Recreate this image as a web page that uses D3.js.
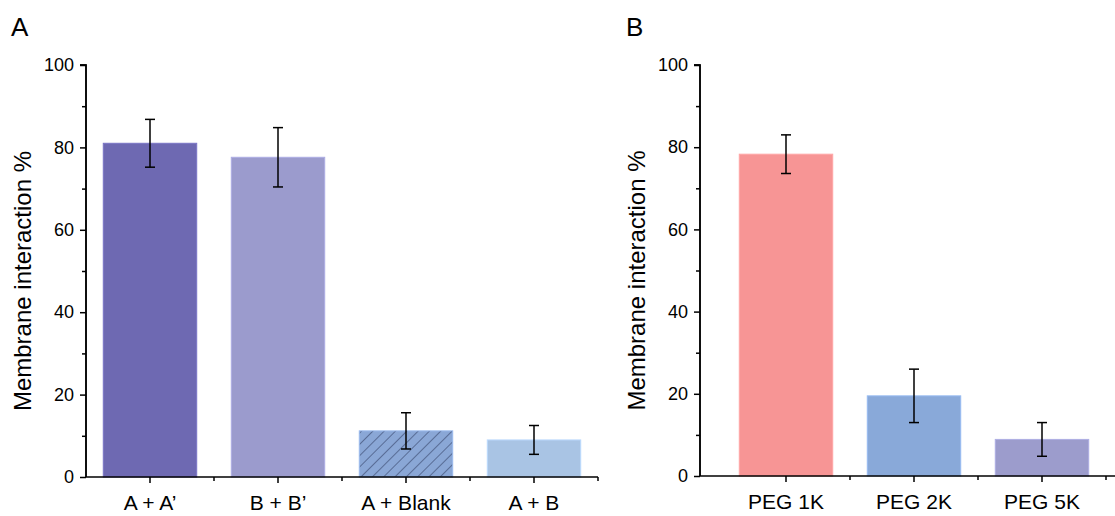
<!DOCTYPE html>
<html>
<head>
<meta charset="utf-8">
<script src="https://cdn.jsdelivr.net/npm/d3@7"></script>
<style>
  body { margin: 0; background: #fff; }
  svg { display: block; font-family: "Liberation Sans", Arial, sans-serif; }
</style>
</head>
<body>
<div id="chart"></div>
<script>
// panel A data
const catsA = ["A + A\u2019", "B + B\u2019", "A + Blank", "A + B"];
const valsA = [81.0, 77.6, 11.2, 9.0];
const errsA = [5.8, 7.2, 4.4, 3.5];
const colorsA = ["#6e69b2", "#9b9bcd", "#8aa7d6", "#a9c4e4"];
const hatchA = [false, false, true, false];

// panel B data
const catsB = ["PEG 1K", "PEG 2K", "PEG 5K"];
const valsB = [78.3, 19.5, 8.9];
const errsB = [4.7, 6.5, 4.1];
const colorsB = ["#f79595", "#89a9d9", "#9c9ccc"];

const yTicks = [0, 20, 40, 60, 80, 100];

const svg = d3.select("#chart").append("svg")
    .attr("width", 1115).attr("height", 516);

const defs = svg.append("defs");
const pat = defs.append("pattern")
    .attr("id", "hatch")
    .attr("patternUnits", "userSpaceOnUse")
    .attr("width", 8).attr("height", 8)
    .attr("patternTransform", "rotate(45)");
pat.append("rect").attr("width", 8).attr("height", 8).attr("fill", "#8aa7d6");
pat.append("line").attr("x1", 0).attr("y1", 0).attr("x2", 0).attr("y2", 8)
    .attr("stroke", "#2e3b5e").attr("stroke-width", 1.1);

// draw one panel
function panel(opts) {
    const { cats, vals, errs, colors, hatch, x0, x1, axisEnd, yTop, yBot, label } = opts;
    const ax = x0 - (opts.yOffset || 0);
    const g = svg.append("g");

    const x = d3.scaleBand().domain(cats).range([x0, x1]).paddingInner(0.27).paddingOuter(0.135);
    const xs = d3.scaleBand().domain(cats).range([x0, x1]).padding(0);
    const y = d3.scaleLinear().domain([0, 100]).range([yBot, yTop]);

    // bars
    g.selectAll("rect.bar").data(cats).join("rect")
        .attr("class", "bar")
        .attr("x", d => x(d))
        .attr("width", x.bandwidth())
        .attr("y", (d, i) => y(vals[i]))
        .attr("height", (d, i) => y(0) - y(vals[i]))
        .attr("fill", (d, i) => hatch && hatch[i] ? "url(#hatch)" : colors[i])
        .attr("stroke", (d, i) => d3.color(colors[i]).brighter(0.3))
        .attr("stroke-width", 1);

    // error bars
    const eg = g.selectAll("g.err").data(cats).join("g").attr("class", "err")
        .attr("stroke", "#000").attr("stroke-width", 1.5);
    eg.append("line")
        .attr("x1", d => x(d) + x.bandwidth() / 2).attr("x2", d => x(d) + x.bandwidth() / 2)
        .attr("y1", (d, i) => y(vals[i] + errs[i])).attr("y2", (d, i) => y(vals[i] - errs[i]));
    [1, -1].forEach(s => {
        eg.append("line")
            .attr("x1", d => x(d) + x.bandwidth() / 2 - 5).attr("x2", d => x(d) + x.bandwidth() / 2 + 5)
            .attr("y1", (d, i) => y(vals[i] + s * errs[i])).attr("y2", (d, i) => y(vals[i] + s * errs[i]));
    });

    // y axis
    const ya = g.append("g").attr("transform", `translate(${ax},0)`);
    ya.call(d3.axisLeft(y).tickValues(yTicks).tickSize(6).tickPadding(6));
    ya.append("g").call(d3.axisLeft(y).tickValues([10, 30, 50, 70, 90]).tickSize(4).tickFormat(""));
    ya.selectAll(".domain").attr("stroke-width", 1.5).attr("d", `M0,${yBot}V${yTop}H-6`);
    ya.selectAll(".tick line").attr("stroke-width", 1.5);
    ya.selectAll(".tick text").attr("font-size", 18).attr("fill", "#000")
        .attr("font-family", "Liberation Sans, Arial, sans-serif");

    // x axis
    const xa = g.append("g").attr("transform", `translate(0,${yBot})`);
    xa.append("line").attr("x1", ax).attr("x2", axisEnd)
        .attr("stroke", "#000").attr("stroke-width", 1.5);
    xa.selectAll("line.maj").data(cats).join("line").attr("class", "maj")
        .attr("x1", d => x(d) + x.bandwidth() / 2).attr("x2", d => x(d) + x.bandwidth() / 2)
        .attr("y1", 0).attr("y2", 6).attr("stroke", "#000").attr("stroke-width", 1.5);
    xa.selectAll("line.min").data(cats).join("line").attr("class", "min")
        .attr("x1", d => xs(d) + xs.bandwidth()).attr("x2", d => xs(d) + xs.bandwidth())
        .attr("y1", 0).attr("y2", 4).attr("stroke", "#000").attr("stroke-width", 1.5);
    xa.selectAll("text").data(cats).join("text")
        .attr("x", d => x(d) + x.bandwidth() / 2).attr("y", 33)
        .attr("text-anchor", "middle").attr("font-size", 21).text(d => d);

    // y title
    svg.append("text")
        .attr("transform", `translate(${ax - 55},${(yTop + yBot) / 2 + 10}) rotate(-90)`)
        .attr("text-anchor", "middle").attr("font-size", 24).text("Membrane interaction %");

    // panel label
    svg.append("text").attr("x", opts.labelX).attr("y", 36).attr("font-size", 26).text(label);
}

panel({ cats: catsA, vals: valsA, errs: errsA, colors: colorsA, hatch: hatchA,
    x0: 86, x1: 598, axisEnd: 598, yTop: 65, yBot: 477, label: "A", labelX: 11 });
panel({ cats: catsB, vals: valsB, errs: errsB, colors: colorsB, hatch: null,
    x0: 722, x1: 1106, axisEnd: 1115, yOffset: 22, yTop: 65, yBot: 476, label: "B", labelX: 626 });
</script>
</body>
</html>
